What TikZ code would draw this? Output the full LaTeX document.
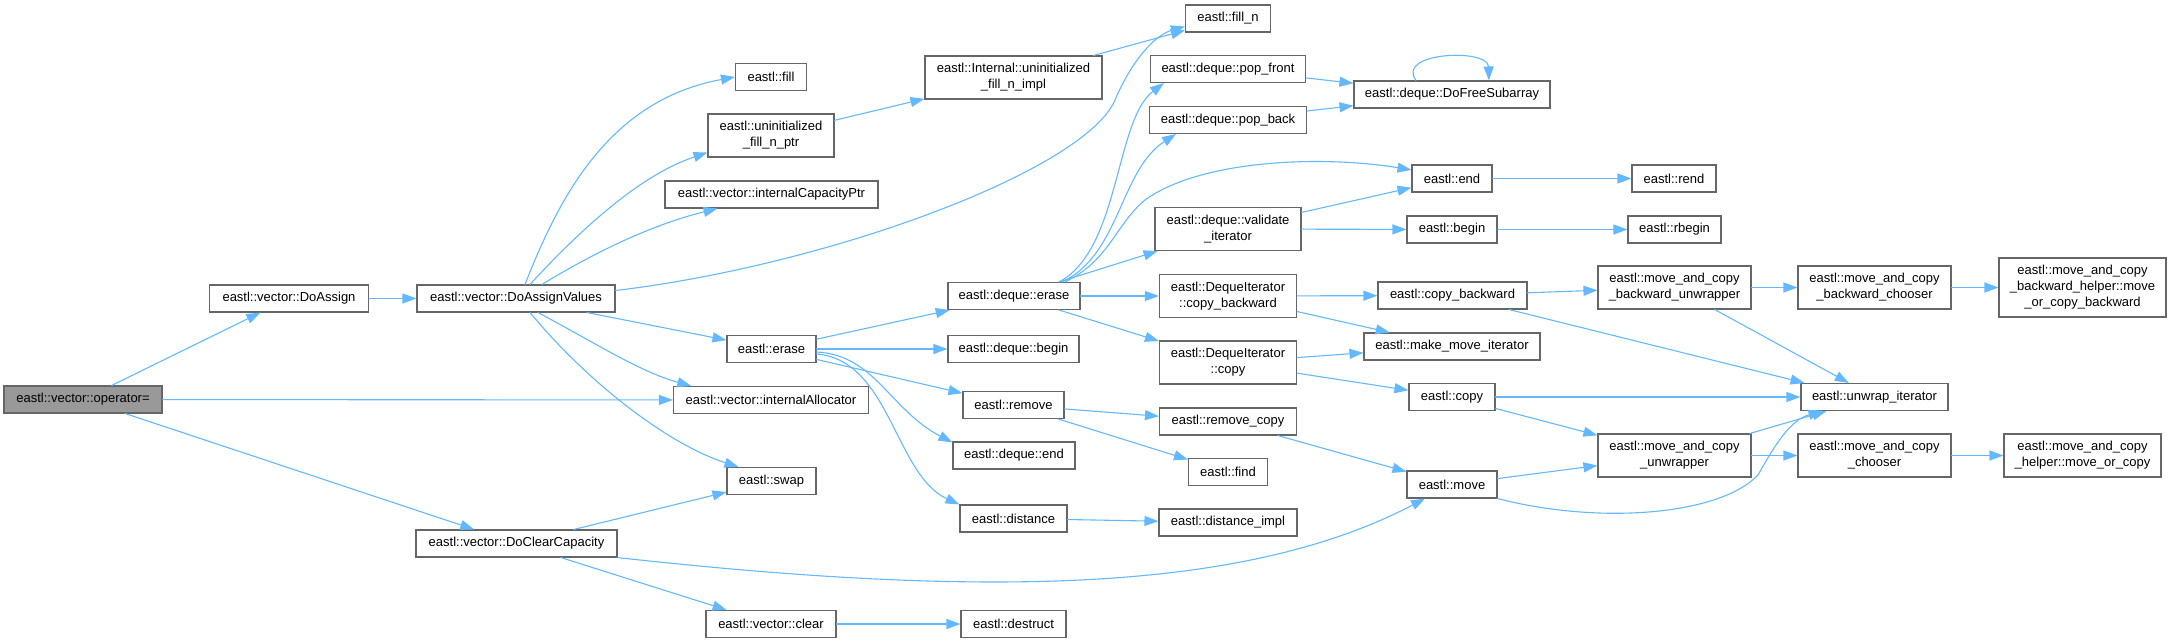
\documentclass[tikz,border=0pt]{standalone}
\usepackage{fontspec}
\setmainfont{Liberation Sans}
\usetikzlibrary{arrows.meta}
\definecolor{callblue}{HTML}{63B8FF}
\definecolor{boxline}{HTML}{666666}
\definecolor{rootgray}{HTML}{999999}

\begin{document}
\begin{tikzpicture}[x=1pt,y=-1pt,line cap=round,
    fn/.style={draw=boxline,line width=1.1pt,fill=white,inner xsep=4pt,inner ysep=2pt,
      minimum height=27pt,align=center,font=\fontsize{13}{16}\selectfont},
    fn2/.style={fn,minimum height=43pt},
    fn3/.style={fn,minimum height=59pt},
    root/.style={fn,fill=rootgray},
    call/.style={callblue,line width=1.1pt,-{Triangle[length=14pt,width=10pt]}}]
    \useasboundingbox (0,0) rectangle (2170,643);
    % functions
    \node[root,minimum width=158] (opeq) at (83,399.5) {eastl::vector::operator=};
    \node[fn,minimum width=159] (doassign) at (289,298.5) {eastl::vector::DoAssign};
    \node[fn,minimum width=198] (dav) at (516,298.5) {eastl::vector::DoAssignValues};
    \node[fn,minimum width=201] (dcc) at (516.5,543.5) {eastl::vector::DoClearCapacity};
    \node[fn,minimum width=71] (fill) at (771,77) {eastl::fill};
    \node[fn2,minimum width=126] (ufnptr) at (771,135.5) {eastl::uninitialized\\\_fill\_n\_ptr};
    \node[fn,minimum width=213] (icap) at (771.5,194.5) {eastl::vector::internalCapacityPtr};
    \node[fn,minimum width=89] (erase) at (771.5,349) {eastl::erase};
    \node[fn,minimum width=195] (ialloc) at (771,400) {eastl::vector::internalAllocator};
    \node[fn,minimum width=89] (swap) at (771.5,481) {eastl::swap};
    \node[fn,minimum width=130] (vclear) at (771,624) {eastl::vector::clear};
    \node[fn2,minimum width=177] (fnimpl) at (1013.5,77.5) {eastl::Internal::uninitialized\\\_fill\_n\_impl};
    \node[fn,minimum width=132] (derase) at (1014,296) {eastl::deque::erase};
    \node[fn,minimum width=131] (dbegin) at (1013.5,349) {eastl::deque::begin};
    \node[fn,minimum width=101] (remove) at (1013.5,405) {eastl::remove};
    \node[fn,minimum width=122] (dend) at (1014,455.5) {eastl::deque::end};
    \node[fn,minimum width=107] (distance) at (1013.5,518.5) {eastl::distance};
    \node[fn,minimum width=105] (destruct) at (1013.5,624) {eastl::destruct};
    \node[fn,minimum width=85] (filln) at (1228,18.5) {eastl::fill\_n};
    \node[fn,minimum width=155] (popfront) at (1228,69) {eastl::deque::pop\_front};
    \node[fn,minimum width=157] (popback) at (1228,120) {eastl::deque::pop\_back};
    \node[fn2,minimum width=146] (valit) at (1228,229) {eastl::deque::validate\\\_iterator};
    \node[fn2,minimum width=137] (dicb) at (1228,296) {eastl::DequeIterator\\::copy\_backward};
    \node[fn2,minimum width=137] (dicopy) at (1228,362.5) {eastl::DequeIterator\\::copy};
    \node[fn,minimum width=137] (rmcopy) at (1228,421.5) {eastl::remove\_copy};
    \node[fn,minimum width=79] (find) at (1228,472) {eastl::find};
    \node[fn,minimum width=138] (distimpl) at (1228,522.5) {eastl::distance\_impl};
    \node[fn,minimum width=196] (freesub) at (1452,94.5) {eastl::deque::DoFreeSubarray};
    \node[fn,minimum width=80] (endn) at (1452,178.5) {eastl::end};
    \node[fn,minimum width=90] (beginn) at (1452,229.5) {eastl::begin};
    \node[fn,minimum width=149] (copyb) at (1452.5,295.5) {eastl::copy\_backward};
    \node[fn,minimum width=176] (mmi) at (1452,346.5) {eastl::make\_move\_iterator};
    \node[fn,minimum width=86] (copyn) at (1452,397) {eastl::copy};
    \node[fn,minimum width=90] (moven) at (1452,484.5) {eastl::move};
    \node[fn,minimum width=84] (rend) at (1674,178.5) {eastl::rend};
    \node[fn,minimum width=93] (rbegin) at (1674.5,229.5) {eastl::rbegin};
    \node[fn2,minimum width=153] (macbu) at (1674.5,287.5) {eastl::move\_and\_copy\\\_backward\_unwrapper};
    \node[fn2,minimum width=153] (macu) at (1674.5,455.5) {eastl::move\_and\_copy\\\_unwrapper};
    \node[fn2,minimum width=153] (macbc) at (1874.5,287.5) {eastl::move\_and\_copy\\\_backward\_chooser};
    \node[fn,minimum width=147] (unwrap) at (1874.5,397) {eastl::unwrap\_iterator};
    \node[fn2,minimum width=153] (macc) at (1874.5,455.5) {eastl::move\_and\_copy\\\_chooser};
    \node[fn3,minimum width=167] (macbh) at (2082.5,287.5) {eastl::move\_and\_copy\\\_backward\_helper::move\\\_or\_copy\_backward};
    \node[fn2,minimum width=157] (mach) at (2082.5,455.5) {eastl::move\_and\_copy\\\_helper::move\_or\_copy};
    % calls
    \draw[call] (opeq) -- (doassign);
    \draw[call] (opeq) -- (ialloc);
    \draw[call] (opeq) -- (dcc);
    \draw[call] (doassign) -- (dav);
    \draw[call] ([xshift=9pt]dav.north) .. controls (560,195) and (610,100) .. (fill.west);
    \draw[call] ([xshift=14pt]dav.north) .. controls (580,230) and (640,175) .. (ufnptr.195);
    \draw[call] ([xshift=26pt]dav.north) .. controls (590,255) and (650,225) .. ([xshift=-54pt]icap.south);
    \draw[call] ([yshift=8pt]dav.east) .. controls (830,265) and (1085,170) .. (1115,100)
        .. controls (1132,60) and (1155,35) .. ([yshift=-8pt]filln.west);
    \draw[call] (dav) -- (erase);
    \draw[call] ([xshift=22pt]dav.south) .. controls (590,340) and (640,372) .. (ialloc.170);
    \draw[call] ([xshift=14pt]dav.south) .. controls (590,385) and (670,445) .. ([xshift=-33pt]swap.north);
    \draw[call] (ufnptr) -- (fnimpl);
    \draw[call] (fnimpl) -- (filln);
    \draw[call] (erase) -- (derase);
    \draw[call] (erase) -- (dbegin);
    \draw[call] (erase) -- (remove);
    \draw[call] ([yshift=-3pt]erase.east) .. controls (875,355) and (890,410) .. (dend.168);
    \draw[call] ([yshift=-5pt]erase.east) .. controls (890,360) and (895,475) .. (distance.north west);
    \draw[call] (dcc) -- (swap);
    \draw[call] (dcc) -- (vclear);
    \draw[call] (dcc.south east) .. controls (1000,600) and (1250,590) .. ([xshift=-27pt]moven.south);
    \draw[call] (vclear) -- (destruct);
    \draw[call] ([xshift=45pt]derase.north) .. controls (1120,250) and (1115,120) .. ([xshift=14pt]popfront.south west);
    \draw[call] ([xshift=48pt]derase.north) .. controls (1120,255) and (1120,170) .. ([xshift=-52pt]popback.south);
    \draw[call] ([xshift=51pt]derase.north) .. controls (1110,260) and (1115,225) .. (1145,200)
        .. controls (1200,160) and (1320,155) .. (endn.168);
    \draw[call] (derase) -- (valit);
    \draw[call] (derase) -- (dicb);
    \draw[call] (derase) -- (dicopy);
    \draw[call] (popfront) -- (freesub);
    \draw[call] (popback) -- (freesub);
    \draw[call] ([xshift=-36pt]freesub.north) .. controls (1395,52) and (1488,48) .. ([xshift=37pt]freesub.north);
    \draw[call] (valit) -- (endn);
    \draw[call] (valit) -- (beginn);
    \draw[call] (endn) -- (rend);
    \draw[call] (beginn) -- (rbegin);
    \draw[call] (dicb) -- (copyb);
    \draw[call] (dicb) -- (mmi);
    \draw[call] (dicopy) -- (mmi);
    \draw[call] (dicopy) -- (copyn);
    \draw[call] (remove) -- (rmcopy);
    \draw[call] (remove) -- (find);
    \draw[call] (rmcopy) -- (moven);
    \draw[call] (distance) -- (distimpl);
    \draw[call] (copyb) -- (macbu);
    \draw[call] (copyb) -- ([xshift=-70pt]unwrap.north);
    \draw[call] (macbu) -- (macbc);
    \draw[call] (macbu) -- (unwrap);
    \draw[call] (macbc) -- (macbh);
    \draw[call] (copyn) -- (unwrap);
    \draw[call] (copyn) -- (macu);
    \draw[call] (macu) -- (unwrap);
    \draw[call] (macu) -- (macc);
    \draw[call] (macc) -- (mach);
    \draw[call] (moven) -- (macu);
    \draw[call] (moven.south east) .. controls (1600,525) and (1720,515) .. (1758,475)
        .. controls (1775,445) and (1790,420) .. ([xshift=-52pt]unwrap.south);
\end{tikzpicture}
\end{document}
